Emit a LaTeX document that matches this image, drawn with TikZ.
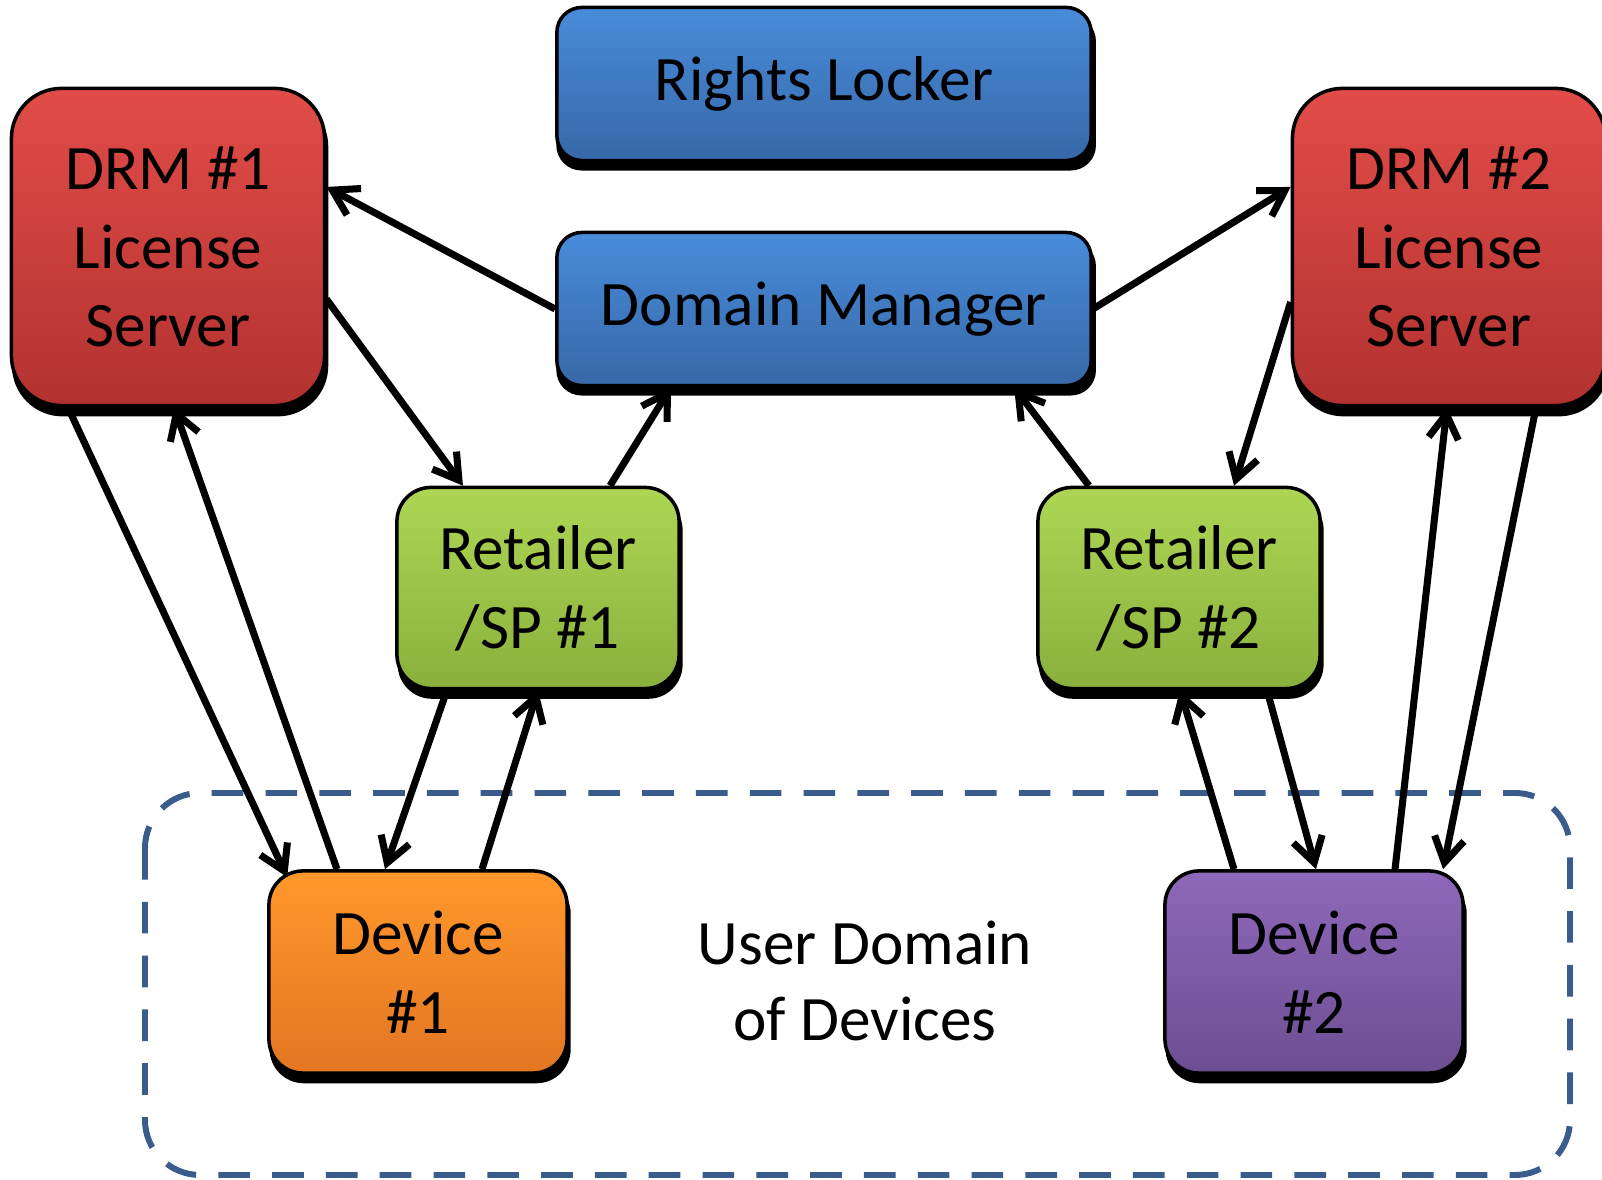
\documentclass[tikz,border=0pt]{standalone}
\usepackage{fontspec}
\setmainfont{Carlito}
\usepackage{xcolor}
\usetikzlibrary{positioning,arrows.meta,calc,shadows}
\definecolor{drmtop}{RGB}{226,76,72}
\definecolor{drmbot}{RGB}{178,50,48}
\definecolor{dmtop}{RGB}{72,140,218}
\definecolor{dmbot}{RGB}{55,104,168}
\definecolor{retop}{RGB}{174,214,84}
\definecolor{rebot}{RGB}{138,176,60}
\definecolor{devatop}{RGB}{255,152,44}
\definecolor{devabot}{RGB}{226,118,34}
\definecolor{devbtop}{RGB}{142,104,186}
\definecolor{devbbot}{RGB}{108,78,146}
\definecolor{domline}{RGB}{58,92,140}

\begin{document}
\begin{tikzpicture}[
    x=0.01cm, y=-0.01cm,
    box/.style={rectangle, draw=black, line width=1pt, align=center,
        font=\fontsize{18}{22.4}\selectfont, inner sep=0pt,
        drop shadow={shadow xshift=0.6pt, shadow yshift=-2.6pt, shadow scale=1.01, fill=black, opacity=1}},
    bluebox/.style={box, top color=dmtop, bottom color=dmbot, minimum width=5.34cm, minimum height=1.53cm, rounded corners=0.25cm},
    drmbox/.style={box, top color=drmtop, bottom color=drmbot, minimum width=3.13cm, minimum height=3.17cm, rounded corners=0.5cm},
    retbox/.style={box, top color=retop, bottom color=rebot, minimum width=2.82cm, minimum height=2.01cm, rounded corners=0.34cm},
    devbox/.style={box, minimum width=2.98cm, minimum height=2.02cm, rounded corners=0.34cm},
    link/.style={line width=2pt, -{Straight Barb[length=7pt,width=8.5pt,line width=2pt]}},
]
    \useasboundingbox (0,0) rectangle (1602,1180);

    % user domain
    \draw[domline, line width=1.7pt, dash pattern=on 9pt off 6.3pt, rounded corners=0.55cm]
        (145,793) rectangle (1570,1175);
    \node[align=center, font=\fontsize{18}{21.6}\selectfont] (udom) at (865,981) {User Domain\\of Devices};

    \node[bluebox] (lock) at (824,84) {Rights Locker};
    \node[bluebox] (dm) at (824,309) {Domain Manager};
    \node[drmbox] (drm1) at (168,247) {DRM \#1\\License\\Server};
    \node[drmbox] (drm2) at (1449,247) {DRM \#2\\License\\Server};
    \node[retbox] (ret1) at (538,588) {Retailer\\/SP \#1};
    \node[retbox] (ret2) at (1179,588) {Retailer\\/SP \#2};
    \node[devbox, top color=devatop, bottom color=devabot] (dev1) at (418,972) {Device\\\#1};
    \node[devbox, top color=devbtop, bottom color=devbbot] (dev2) at (1314,972) {Device\\\#2};

    % links around domain manager
    \draw[link] (dm.west) -- ([yshift=0.6cm]drm1.east);
    \draw[link] ([yshift=-0.52cm]drm1.east) -- ([xshift=-0.75cm]ret1.north);
    \draw[link] ([xshift=0.72cm]ret1.north) -- ([xshift=-1.53cm]dm.south);
    \draw[link] ([xshift=-0.9cm]ret2.north) -- ([xshift=1.9cm]dm.south);
    \draw[link] (dm.east) -- ([yshift=0.6cm]drm2.west);
    \draw[link] ([yshift=-0.55cm]drm2.west) -- ([xshift=0.55cm]ret2.north);

    % links to devices
    \draw[link] ([xshift=-1.0cm]drm1.south) -- ([xshift=0.2cm,yshift=-0.08cm]dev1.north west);
    \draw[link] ([xshift=-0.81cm]dev1.north) -- ([xshift=0.06cm]drm1.south);
    \draw[link] ([xshift=-0.91cm]ret1.south) -- ([xshift=-0.33cm]dev1.north);
    \draw[link] ([xshift=0.64cm]dev1.north) -- (ret1.south);
    \draw[link] ([xshift=-0.8cm]dev2.north) -- ([xshift=0.01cm]ret2.south);
    \draw[link] ([xshift=0.88cm]ret2.south) -- ([xshift=0.02cm]dev2.north);
    \draw[link] ([xshift=0.81cm]dev2.north) -- ([xshift=-0.02cm]drm2.south);
    \draw[link] ([xshift=0.87cm]drm2.south) -- ([xshift=1.29cm]dev2.north);
\end{tikzpicture}
\end{document}
